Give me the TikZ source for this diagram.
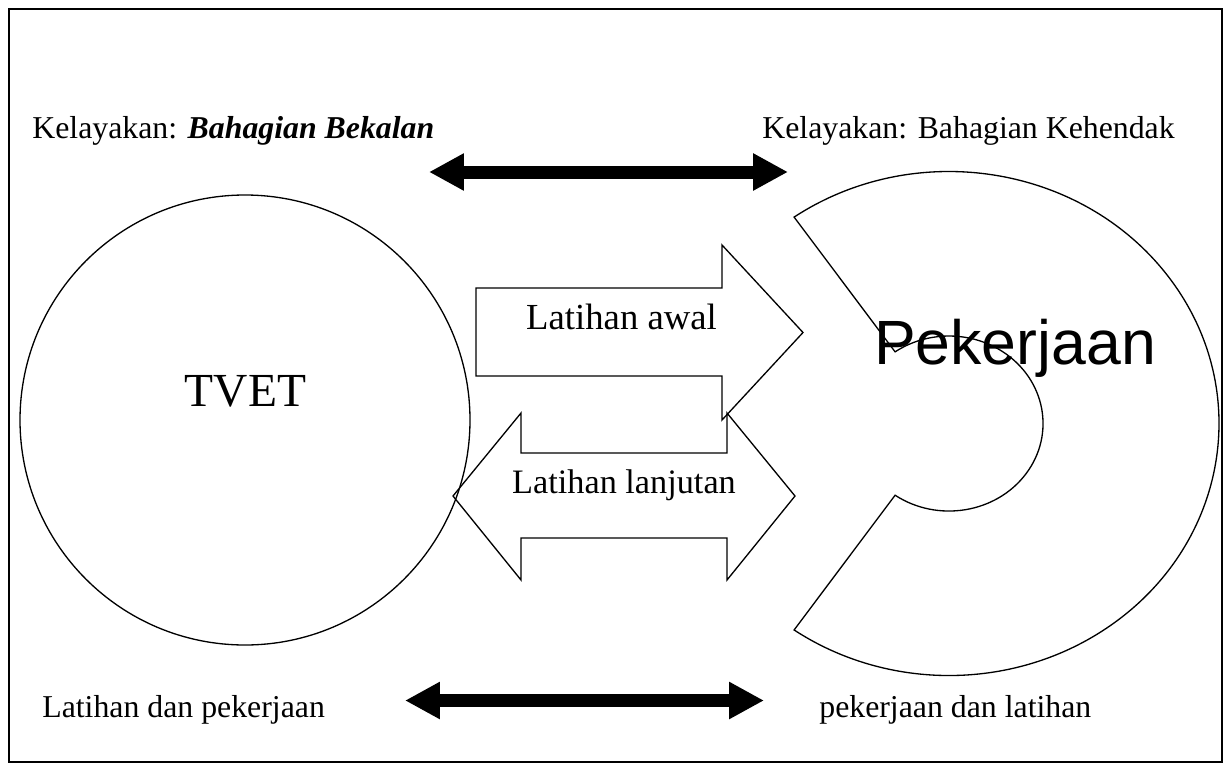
\documentclass[tikz,border=0pt]{standalone}
\usepackage{fontspec}
\setmainfont{Liberation Serif}
\newfontfamily\arialfont{Liberation Sans}
\usepackage{tikz}
\usetikzlibrary{arrows.meta}

\begin{document}
\begin{tikzpicture}[x=0.02cm, y=-0.02cm,
    outline/.style={draw=black, line width=0.75pt, line join=miter},
    lbl/.style={font=\fontsize{18.1}{21}\selectfont, inner sep=0pt, anchor=base west},
    midtxt/.style={font=\fontsize{#1}{#1}\selectfont, inner sep=0pt, anchor=base},
    bigarr/.style={{Triangle[length=19.9pt, width=19.9pt]}-{Triangle[length=19.9pt, width=19.9pt]}, line width=7.4pt}
]
\useasboundingbox (0,0) rectangle (1229,767);

% Frame
\draw[line width=1.1pt] (9,9) rectangle (1222,762);

% Top labels and arrow
\node[lbl] (kleft) at (32,138) {Kelayakan: \textbf{\textit{Bahagian Bekalan}}};
\node[lbl] (kright) at (762,138) {Kelayakan: Bahagian Kehendak};
\coordinate (t1) at (429,172);
\coordinate (t2) at (788,172);
\draw[bigarr] (t1) -- (t2);

% TVET circle
\draw[outline] (245,420) circle[radius=225];
\node[midtxt=27] (tvet) at (245.5,406) {TVET};

% Block arrows in the middle
\draw[outline] (476,288) -- (722,288) -- (722,245) -- (803,332.5) -- (722,420) -- (722,376) -- (476,376) -- cycle;
\node[midtxt=20.9] (awal) at (621.5,329) {Latihan awal};

\draw[outline] (453,496) -- (521,413) -- (521,453) -- (727,453) -- (727,413) -- (795,496)
    -- (727,580) -- (727,538) -- (521,538) -- (521,580) -- cycle;
\node[midtxt=19.5] (lanjut) at (624,493) {Latihan lanjutan};

% Pekerjaan block arc
\draw[outline] (794.1,217.1) arc[start angle=-125, end angle=125, x radius=270, y radius=252]
    -- (895.1,495.2) arc[start angle=125, end angle=-125, x radius=94, y radius=87.5] -- cycle;
\node[font=\arialfont\fontsize{35.6}{36}\selectfont, inner sep=0pt, anchor=base] (kerja) at (1015,364) {Pekerjaan};

% Bottom labels and arrow
\node[lbl] (lleft) at (42,717) {Latihan dan pekerjaan};
\node[lbl] (lright) at (819,717) {pekerjaan dan latihan};
\coordinate (b1) at (405,700.5);
\coordinate (b2) at (764,700.5);
\draw[bigarr] (b1) -- (b2);

\end{tikzpicture}
\end{document}
